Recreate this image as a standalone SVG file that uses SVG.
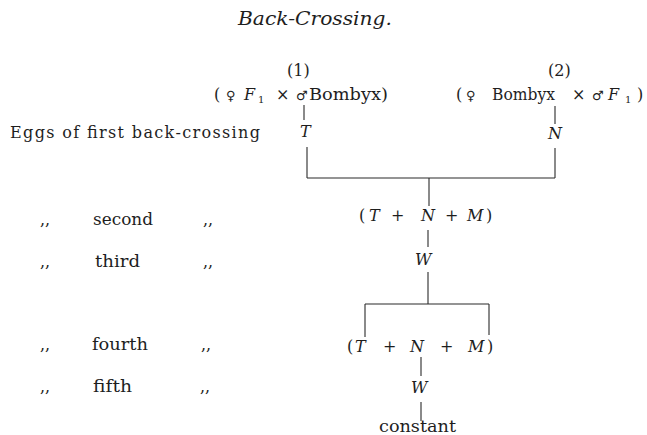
<svg xmlns="http://www.w3.org/2000/svg" width="647" height="435" viewBox="0 0 647 435">
<style>
text{font-family:"DejaVu Serif","Liberation Serif",serif;font-size:16px;fill:#1e1e1e}
.i{font-style:italic}
.sub{font-size:10px}
.sym{font-family:"DejaVu Sans","DejaVu Serif",serif;font-size:13px}
.c line{stroke:#2a2a2a;stroke-width:1.1;fill:none}
</style>
<rect width="647" height="435" fill="#fff"/>
<g id="title"><text class="i" x="238" y="25" textLength="154" lengthAdjust="spacingAndGlyphs" style="font-size:19px">Back-Crossing.</text></g>
<g id="cross1">
<text x="287" y="76">(1)</text>
<text y="100"><tspan x="214">(</tspan><tspan class="sym" x="226">♀</tspan><tspan class="i" x="244">F</tspan><tspan class="sub" x="258" dy="3">1</tspan><tspan x="276" dy="-3">×</tspan><tspan class="sym" x="296">♂</tspan><tspan x="309" textLength="79" lengthAdjust="spacingAndGlyphs">Bombyx)</tspan></text>
</g>
<g id="cross2">
<text x="548" y="76">(2)</text>
<text y="100"><tspan x="456">(</tspan><tspan class="sym" x="466">♀</tspan><tspan x="492" textLength="63" lengthAdjust="spacingAndGlyphs">Bombyx</tspan><tspan x="572">×</tspan><tspan class="sym" x="592">♂</tspan><tspan class="i" x="608">F</tspan><tspan class="sub" x="625" dy="3">1</tspan><tspan x="637" dy="-3">)</tspan></text>
</g>
<g id="labels">
<text x="10" y="138" textLength="250" lengthAdjust="spacing">Eggs of first back-crossing</text>
<text x="40" y="225">,,</text><text x="93" y="225" textLength="60" lengthAdjust="spacingAndGlyphs">second</text><text x="203" y="225">,,</text>
<text x="40" y="267">,,</text><text x="95" y="267" textLength="45" lengthAdjust="spacingAndGlyphs">third</text><text x="203" y="267">,,</text>
<text x="40" y="350">,,</text><text x="92" y="350" textLength="56" lengthAdjust="spacingAndGlyphs">fourth</text><text x="201" y="350">,,</text>
<text x="40" y="392">,,</text><text x="93" y="392" textLength="39" lengthAdjust="spacingAndGlyphs">fifth</text><text x="200" y="392">,,</text>
</g>
<g id="T"><text class="i" x="300" y="137">T</text></g>
<g id="N"><text class="i" x="548" y="139">N</text></g>
<g id="TNM1"><text y="221"><tspan x="359">(</tspan><tspan class="i" x="369">T</tspan><tspan x="391">+</tspan><tspan class="i" x="421">N</tspan><tspan x="445">+</tspan><tspan class="i" x="467">M</tspan><tspan x="486">)</tspan></text></g>
<g id="W1"><text class="i" x="415" y="265">W</text></g>
<g id="TNM2"><text y="352"><tspan x="347">(</tspan><tspan class="i" x="355">T</tspan><tspan x="383">+</tspan><tspan class="i" x="410">N</tspan><tspan x="440">+</tspan><tspan class="i" x="468">M</tspan><tspan x="487">)</tspan></text></g>
<g id="W2"><text class="i" x="411" y="393">W</text></g>
<g id="constant"><text x="379" y="432" textLength="77" lengthAdjust="spacingAndGlyphs">constant</text></g>
<g class="c" id="connectors">
<line x1="304" y1="105" x2="304" y2="120"/>
<line x1="307" y1="147" x2="307" y2="178"/>
<line x1="307" y1="178" x2="555" y2="178"/>
<line x1="555" y1="106" x2="555" y2="124"/>
<line x1="555" y1="148" x2="555" y2="178"/>
<line x1="429" y1="178" x2="429" y2="206"/>
<line x1="428" y1="230" x2="428" y2="247"/>
<line x1="428" y1="272" x2="428" y2="304"/>
<line x1="365" y1="304" x2="489" y2="304"/>
<line x1="365" y1="304" x2="365" y2="337"/>
<line x1="489" y1="304" x2="489" y2="335"/>
<line x1="421" y1="357" x2="421" y2="376"/>
<line x1="421" y1="402" x2="421" y2="421"/>
</g>
</svg>
